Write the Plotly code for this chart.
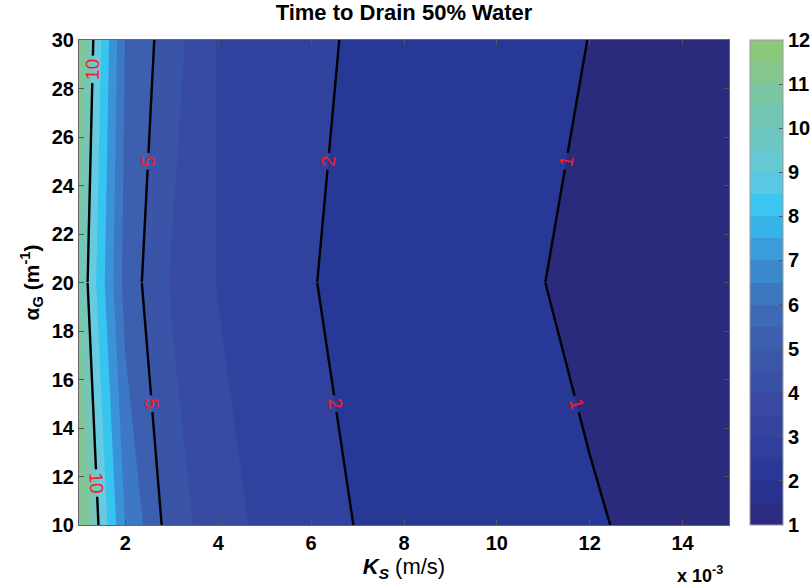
import plotly.graph_objects as go

# ---------------- data ----------------
ks_milli = [1, 2, 3, 4, 5, 6, 7, 8, 9, 10, 11, 12, 13, 14, 15]   # K_S in 1e-3 m/s
alpha_g = [10, 20, 30]                                            # alpha_G (1/m)
t_alpha10 = [12.2, 6.95, 4.45, 3.45, 2.76, 2.3, 1.97, 1.72, 1.53, 1.38, 1.2, 1.045, 0.943, 0.87, 0.81]
t_alpha20 = [11.0, 5.6, 3.9, 2.95, 2.4, 2.03, 1.8, 1.48, 1.3, 1.14, 1.005, 0.89, 0.82, 0.76, 0.71]
t_alpha30 = [11.8, 5.95, 4.42, 2.92, 2.6, 2.2, 1.87, 1.63, 1.45, 1.3, 1.18, 0.99, 0.91, 0.85, 0.79]
line_levels = [1, 2, 5, 10]
cbar_ticks = [1, 2, 3, 4, 5, 6, 7, 8, 9, 10, 11, 12]
x_ticks = [2, 4, 6, 8, 10, 12, 14]
y_ticks = [10, 12, 14, 16, 18, 20, 22, 24, 26, 28, 30]

z = [t_alpha10, t_alpha20, t_alpha30]

# fill colours, one per unit band [0,1], [1,2], ... [11,12]
band_colors = ["#2a2b7d", "#283896", "#31429e", "#374ba3", "#3a55a8", "#3c5fb0",
               "#3c78c3", "#3a93d8", "#35c5ef", "#66cbe0", "#74c7b8", "#82c595"]
# colorbar colours, half-unit steps from 1 to 12
cbar_colors = ["#2b2c81", "#2a3290", "#2c3897", "#313e9b", "#35449f", "#3949a2",
               "#3a50a6", "#3b57aa", "#3c5fb0", "#3d69b6", "#3d77c0", "#3c88cc",
               "#3a9cda", "#38b3e8", "#3cc5f0", "#5ac8e3", "#66c8d2", "#6cc7c3",
               "#73c6b3", "#7ac6a3", "#84c78e", "#8cc87b"]


def stepped(colors):
    n = len(colors)
    cs = []
    for i, c in enumerate(colors):
        cs.append([i / n, c])
        cs.append([(i + 1) / n, c])
    return cs


font_family = "Liberation Sans, Arial, sans-serif"

fig = go.Figure()

fig.add_trace(go.Contour(
    x=ks_milli, y=alpha_g, z=z,
    zmin=0, zmax=12, zauto=False,
    colorscale=stepped(band_colors),
    contours=dict(start=0, end=12, size=1, coloring="fill", showlines=False),
    line=dict(width=0, smoothing=0),
    showscale=False, hoverinfo="skip",
))

# black labelled contour lines, drawn per row-strip so each strip gets its own label
for lev in line_levels:
    for r0 in range(len(alpha_g) - 1):
        fig.add_trace(go.Contour(
            x=ks_milli, y=alpha_g[r0:r0 + 2], z=z[r0:r0 + 2],
            contours=dict(start=lev, end=lev, size=1, coloring="none",
                          showlabels=True,
                          labelfont=dict(color="#ff1a1a", size=19, family=font_family)),
            line=dict(color="black", width=2.4, smoothing=0),
            showscale=False, hoverinfo="skip",
        ))

# colorbar carrier
fig.add_trace(go.Scatter(
    x=[ks_milli[0], ks_milli[0]], y=[alpha_g[0], alpha_g[0]],
    mode="markers",
    marker=dict(size=0.1, opacity=0, color=[cbar_ticks[0], cbar_ticks[-1]],
                cmin=cbar_ticks[0], cmax=cbar_ticks[-1],
                colorscale=stepped(cbar_colors), showscale=True,
                colorbar=dict(x=1.032, xanchor="left", xref="paper",
                              y=0.5, yanchor="middle", len=1, lenmode="fraction",
                              thickness=33, outlinewidth=1, outlinecolor="#9a9a9a",
                              tickvals=cbar_ticks, ticks="inside", ticklen=4,
                              tickcolor="#555", ticklabelposition="outside",
                              tickfont=dict(size=20, family=font_family, color="black", weight="bold"),
                              xpad=0, ypad=0)),
    hoverinfo="skip", showlegend=False,
))

axis_common = dict(showgrid=False, zeroline=False, showline=True, linecolor="#666",
                   linewidth=1, mirror="ticks", ticks="inside", ticklen=5,
                   tickcolor="#555",
                   tickfont=dict(size=20, family=font_family, color="black", weight="bold"))

fig.update_layout(
    width=810, height=588,
    margin=dict(l=79, r=81, t=40, b=63, autoexpand=False),
    paper_bgcolor="white", plot_bgcolor="white",
    showlegend=False,
    title=dict(text="<b>Time to Drain 50% Water</b>", x=0.5, xref="paper",
               y=1 - 12 / 588, yref="container", yanchor="middle", xanchor="center",
               font=dict(size=22, family=font_family, color="black")),
    xaxis=dict(range=[1, 15], tickvals=x_ticks,
               title=dict(text="<b><i>K<sub>S</sub></i></b> (m/s)", standoff=2,
                          font=dict(size=22, family=font_family, color="black")),
               **axis_common),
    yaxis=dict(range=[10, 30], tickvals=y_ticks,
               title=dict(text="<b>α<sub>G</sub> (m<sup>-1</sup>)</b>", standoff=6,
                          font=dict(size=21, family=font_family, color="black")),
               **axis_common),
    annotations=[dict(text="<b>x 10<sup>-3</sup></b>", xref="paper", yref="paper",
                      x=0.994, y=-0.103, xanchor="right", yanchor="middle", showarrow=False,
                      font=dict(size=18, family=font_family, color="black"))],
)

fig.write_html("out.html")
